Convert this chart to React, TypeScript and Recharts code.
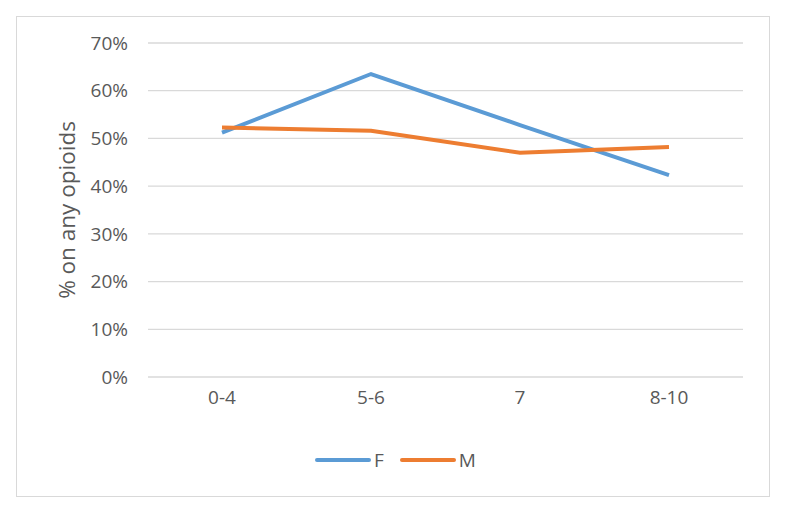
import { LineChart, Line, XAxis, YAxis, CartesianGrid } from 'recharts';

const CATEGORIES = ['0-4', '5-6', '7', '8-10'];
const FEMALE = [51.2, 63.5, 52.8, 42.3];
const MALE = [52.3, 51.6, 47.0, 48.2];
const Y_TICKS = [0, 10, 20, 30, 40, 50, 60, 70];

const COLORS = {
  f: '#5B9BD5',
  m: '#ED7D31',
  grid: '#D9D9D9',
  text: '#595959',
};

const FONT = '"Open Sans", sans-serif';

const data = CATEGORIES.map((cat, i) => ({ cat, F: FEMALE[i], M: MALE[i] }));

function LegendBox() {
  const items = [
    { name: 'F', color: COLORS.f },
    { name: 'M', color: COLORS.m },
  ];
  return (
    <div
      style={{
        position: 'absolute',
        left: 315,
        top: 449,
        display: 'flex',
        alignItems: 'center',
        gap: 16,
      }}
    >
      {items.map((it) => (
        <div key={it.name} style={{ display: 'flex', alignItems: 'center' }}>
          <span
            style={{
              display: 'inline-block',
              width: 56,
              height: 4,
              borderRadius: 2,
              background: it.color,
              marginRight: 3,
            }}
          />
          <span style={{ fontFamily: FONT, fontSize: 19, color: COLORS.text, lineHeight: '22px' }}>
            {it.name}
          </span>
        </div>
      ))}
    </div>
  );
}

export default function App() {
  return (
    <div style={{ position: 'absolute', left: 0, top: 0, width: 800, height: 518, background: '#fff' }}>
      <div
        style={{
          position: 'absolute',
          left: 16,
          top: 16,
          width: 752,
          height: 479,
          border: '1px solid #D9D9D9',
        }}
      />
      <div style={{ position: 'absolute', left: 0, top: 0 }}>
        <LineChart
          width={800}
          height={518}
          data={data}
          margin={{ top: 43, right: 57, left: 0, bottom: 111 }}
        >
          <CartesianGrid stroke={COLORS.grid} strokeWidth={1.3} vertical={false} />
          <XAxis
            dataKey="cat"
            height={30}
            axisLine={false}
            tickLine={false}
            tickMargin={8}
            padding={{ left: 74, right: 74 }}
            tick={{ fontFamily: FONT, fontSize: 19, fill: COLORS.text }}
          />
          <YAxis
            width={148}
            domain={[0, 70]}
            ticks={Y_TICKS}
            interval={0}
            axisLine={false}
            tickLine={false}
            tickMargin={14}
            tickFormatter={(v: number) => `${v}%`}
            tick={{ fontFamily: FONT, fontSize: 19, fill: COLORS.text }}
            label={{
              value: '% on any opioids',
              angle: -90,
              position: 'insideLeft',
              offset: 67,
              textAnchor: 'middle',
              style: { fontFamily: FONT, fontSize: 22.5, fill: COLORS.text },
            }}
          />
          <Line
            type="linear"
            dataKey="F"
            stroke={COLORS.f}
            strokeWidth={4}
            dot={false}
            isAnimationActive={false}
          />
          <Line
            type="linear"
            dataKey="M"
            stroke={COLORS.m}
            strokeWidth={4}
            dot={false}
            isAnimationActive={false}
          />
        </LineChart>
      </div>
      <LegendBox />
    </div>
  );
}
